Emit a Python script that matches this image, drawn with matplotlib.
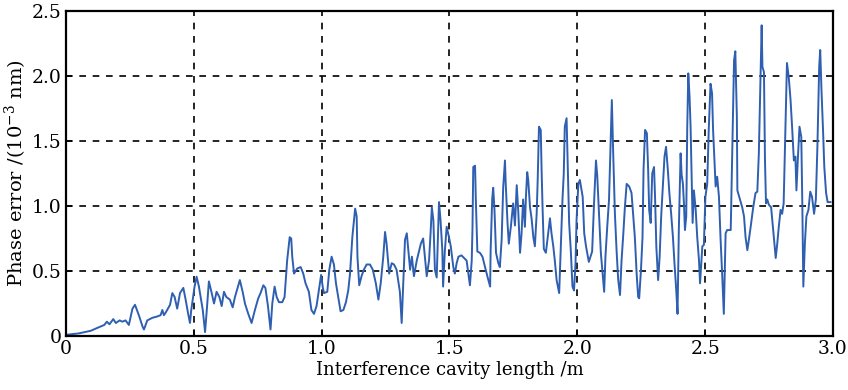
import matplotlib
matplotlib.use("Agg")
import matplotlib.pyplot as plt
import numpy as np

# cavity length (m) and phase error (1e-3 nm)
length_m = [
    0.005, 0.05, 0.097, 0.12, 0.15, 0.16, 0.17, 0.185, 0.195, 0.21,
    0.22, 0.233, 0.246, 0.26, 0.27, 0.285, 0.30, 0.305, 0.318, 0.338,
    0.357, 0.37, 0.377, 0.383, 0.39, 0.407, 0.416, 0.425, 0.435, 0.446,
    0.459, 0.468, 0.477, 0.485, 0.49, 0.503, 0.511, 0.52, 0.535, 0.544,
    0.55, 0.559, 0.57, 0.579, 0.589, 0.60, 0.609, 0.618, 0.627, 0.641,
    0.652, 0.661, 0.671, 0.68, 0.691, 0.70, 0.713, 0.726, 0.739, 0.752,
    0.761, 0.772, 0.78, 0.79, 0.80, 0.807, 0.816, 0.824, 0.833, 0.846,
    0.855, 0.865, 0.875, 0.881, 0.885, 0.892, 0.905, 0.918, 0.928, 0.937,
    0.95, 0.96, 0.97, 0.98, 0.989, 0.998, 1.004, 1.009, 1.022, 1.03,
    1.039, 1.048, 1.056, 1.065, 1.074, 1.085, 1.095, 1.104, 1.111, 1.12,
    1.131, 1.137, 1.14, 1.147, 1.156, 1.165, 1.176, 1.189, 1.20, 1.212,
    1.222, 1.231, 1.241, 1.248, 1.254, 1.264, 1.274, 1.283, 1.293, 1.306,
    1.313, 1.319, 1.326, 1.333, 1.339, 1.346, 1.353, 1.361, 1.372, 1.382,
    1.388, 1.397, 1.405, 1.411, 1.42, 1.426, 1.431, 1.437, 1.443, 1.45,
    1.459, 1.465, 1.472, 1.475, 1.482, 1.489, 1.498, 1.505, 1.515, 1.521,
    1.528, 1.535, 1.547, 1.567, 1.573, 1.58, 1.587, 1.59, 1.593, 1.60,
    1.603, 1.609, 1.619, 1.629, 1.639, 1.648, 1.659, 1.661, 1.667, 1.671,
    1.676, 1.682, 1.691, 1.697, 1.704, 1.71, 1.717, 1.72, 1.727, 1.732,
    1.74, 1.749, 1.756, 1.763, 1.769, 1.776, 1.782, 1.788, 1.795, 1.799,
    1.804, 1.808, 1.815, 1.821, 1.828, 1.834, 1.841, 1.845, 1.85, 1.857,
    1.86, 1.864, 1.869, 1.877, 1.886, 1.893, 1.899, 1.906, 1.912, 1.919,
    1.929, 1.934, 1.942, 1.947, 1.951, 1.958, 1.963, 1.968, 1.975, 1.981,
    1.987, 1.993, 1.997, 2.004, 2.01, 2.021, 2.027, 2.034, 2.045, 2.058,
    2.066, 2.073, 2.078, 2.084, 2.092, 2.099, 2.105, 2.11, 2.117, 2.124,
    2.13, 2.135, 2.14, 2.147, 2.154, 2.16, 2.167, 2.173, 2.18, 2.186,
    2.193, 2.203, 2.212, 2.219, 2.225, 2.232, 2.238, 2.242, 2.249, 2.255,
    2.259, 2.265, 2.272, 2.277, 2.281, 2.287, 2.293, 2.30, 2.304, 2.309,
    2.316, 2.322, 2.328, 2.335, 2.341, 2.347, 2.354, 2.36, 2.367, 2.374,
    2.38, 2.387, 2.392, 2.397, 2.404, 2.408, 2.413, 2.417, 2.421, 2.426,
    2.43, 2.434, 2.439, 2.443, 2.447, 2.451, 2.456, 2.463, 2.469, 2.476,
    2.48, 2.485, 2.489, 2.495, 2.501, 2.508, 2.514, 2.521, 2.527, 2.531,
    2.537, 2.541, 2.547, 2.554, 2.56, 2.567, 2.573, 2.58, 2.586, 2.60,
    2.606, 2.613, 2.618, 2.624, 2.626, 2.636, 2.645, 2.652, 2.658, 2.665,
    2.671, 2.678, 2.688, 2.697, 2.704, 2.71, 2.717, 2.721, 2.724, 2.73,
    2.734, 2.738, 2.743, 2.749, 2.758, 2.765, 2.771, 2.776, 2.782, 2.788,
    2.795, 2.801, 2.807, 2.814, 2.82, 2.827, 2.834, 2.84, 2.847, 2.853,
    2.857, 2.863, 2.869, 2.876, 2.88, 2.884, 2.89, 2.896, 2.904, 2.911,
    2.918, 2.926, 2.933, 2.939, 2.946, 2.95, 2.955, 2.961, 2.966, 2.973,
    2.979, 2.99,
]
phase_err = [
    0.01, 0.02, 0.04, 0.06, 0.085, 0.11, 0.09, 0.13, 0.10, 0.12,
    0.11, 0.12, 0.085, 0.21, 0.24, 0.16, 0.07, 0.05, 0.12, 0.14,
    0.15, 0.16, 0.20, 0.16, 0.18, 0.24, 0.33, 0.30, 0.21, 0.33,
    0.37, 0.28, 0.18, 0.10, 0.20, 0.38, 0.456, 0.38, 0.20, 0.03,
    0.18, 0.42, 0.33, 0.25, 0.34, 0.30, 0.23, 0.34, 0.30, 0.28,
    0.22, 0.30, 0.37, 0.43, 0.34, 0.25, 0.17, 0.10, 0.20, 0.29,
    0.33, 0.39, 0.37, 0.23, 0.05, 0.25, 0.38, 0.30, 0.26, 0.26,
    0.30, 0.58, 0.76, 0.75, 0.61, 0.48, 0.52, 0.53, 0.48, 0.405,
    0.34, 0.20, 0.17, 0.23, 0.35, 0.47, 0.38, 0.33, 0.34, 0.51,
    0.61, 0.55, 0.405, 0.30, 0.19, 0.20, 0.26, 0.35, 0.48, 0.76,
    0.98, 0.92, 0.61, 0.39, 0.46, 0.51, 0.55, 0.55, 0.51, 0.405,
    0.28, 0.405, 0.61, 0.80, 0.71, 0.48, 0.56, 0.55, 0.51, 0.34,
    0.10, 0.405, 0.74, 0.79, 0.66, 0.51, 0.61, 0.46, 0.58, 0.66,
    0.71, 0.75, 0.58, 0.46, 0.58, 0.79, 0.99, 0.89, 0.51, 0.45,
    1.03, 0.89, 0.66, 0.38, 0.66, 0.84, 0.76, 0.69, 0.53, 0.48,
    0.56, 0.61, 0.62, 0.58, 0.49, 0.39, 0.58, 0.83, 1.30, 1.31,
    1.05, 0.65, 0.64, 0.61, 0.53, 0.46, 0.38, 0.66, 1.05, 1.14,
    0.97, 0.64, 0.56, 0.53, 0.74, 1.14, 1.35, 1.17, 0.87, 0.71,
    0.84, 1.02, 0.85, 1.16, 0.96, 0.64, 0.79, 1.05, 0.84, 1.07,
    1.26, 1.20, 0.99, 0.905, 0.76, 0.69, 0.94, 1.20, 1.61, 1.585,
    1.30, 0.99, 0.67, 0.64, 0.79, 0.905, 0.79, 0.69, 0.58, 0.43,
    0.33, 0.61, 1.05, 1.25, 1.61, 1.675, 1.28, 0.87, 0.64, 0.38,
    0.35, 0.56, 0.89, 1.17, 1.20, 1.07, 0.79, 0.69, 0.57, 0.65,
    1.05, 1.35, 1.23, 0.97, 0.64, 0.48, 0.34, 0.61, 0.84, 1.05,
    1.48, 1.815, 1.43, 0.94, 0.64, 0.43, 0.315, 0.58, 0.79, 0.99,
    1.17, 1.15, 1.10, 0.92, 0.76, 0.48, 0.30, 0.29, 0.51, 0.76,
    1.28, 1.585, 1.56, 1.28, 0.97, 0.87, 1.25, 1.30, 1.07, 0.69,
    0.43, 0.61, 0.92, 1.17, 1.38, 1.455, 1.28, 1.10, 0.94, 0.76,
    0.56, 0.35, 0.17, 0.815, 1.405, 1.24, 1.17, 1.02, 0.815, 0.92,
    1.61, 2.02, 1.84, 1.61, 1.25, 0.87, 1.12, 0.97, 0.76, 0.58,
    0.405, 0.56, 0.69, 0.70, 1.07, 1.17, 1.585, 1.94, 1.865, 1.585,
    1.33, 1.15, 1.225, 1.07, 0.76, 0.455, 0.17, 0.79, 0.815, 0.815,
    1.43, 2.12, 2.19, 1.69, 1.12, 1.05, 0.99, 0.92, 0.76, 0.66,
    0.74, 0.84, 0.99, 1.10, 1.11, 1.405, 2.02, 2.39, 2.07, 2.03,
    1.35, 1.02, 1.05, 1.01, 0.99, 0.84, 0.71, 0.60, 0.71, 0.84,
    0.97, 0.94, 1.02, 1.61, 2.10, 1.99, 1.815, 1.61, 1.35, 1.38,
    1.12, 1.38, 1.61, 1.53, 1.02, 0.38, 0.71, 0.92, 0.97, 1.11,
    1.07, 0.94, 1.05, 1.455, 2.07, 2.20, 1.89, 1.585, 1.30, 1.10,
    1.03, 1.03,
]

x_ticks = [0, 0.5, 1.0, 1.5, 2.0, 2.5, 3.0]
x_ticklabels = ["0", "0.5", "1.0", "1.5", "2.0", "2.5", "3.0"]
y_ticks = [0, 0.5, 1.0, 1.5, 2.0, 2.5]
y_ticklabels = ["0", "0.5", "1.0", "1.5", "2.0", "2.5"]

plt.rcParams["font.family"] = ["DejaVu Serif"]
plt.rcParams["mathtext.fontset"] = "dejavuserif"

fig = plt.figure(figsize=(8.48, 3.9), dpi=100)
ax = fig.add_axes([0.0778, 0.1385, 0.9045, 0.8333])

ax.plot(length_m, phase_err, color="#2f5fb0", linewidth=1.4)

ax.set_xlim(0, 3.0)
ax.set_ylim(0, 2.5)
ax.set_xticks(x_ticks)
ax.set_xticklabels(x_ticklabels)
ax.set_yticks(y_ticks)
ax.set_yticklabels(y_ticklabels)
ax.tick_params(direction="in", length=4, width=1.2, labelsize=13.5, pad=3)

ax.grid(True, color="black", linestyle=(0, (4, 4)), linewidth=1.2)
for s in ax.spines.values():
    s.set_linewidth(1.6)

ax.set_xlabel("Interference cavity length /m", fontsize=13, labelpad=2)
ax.set_ylabel(r"Phase error /(10$^{-3}$ nm)", fontsize=14, labelpad=2)

fig.savefig("out.png", dpi=100)
